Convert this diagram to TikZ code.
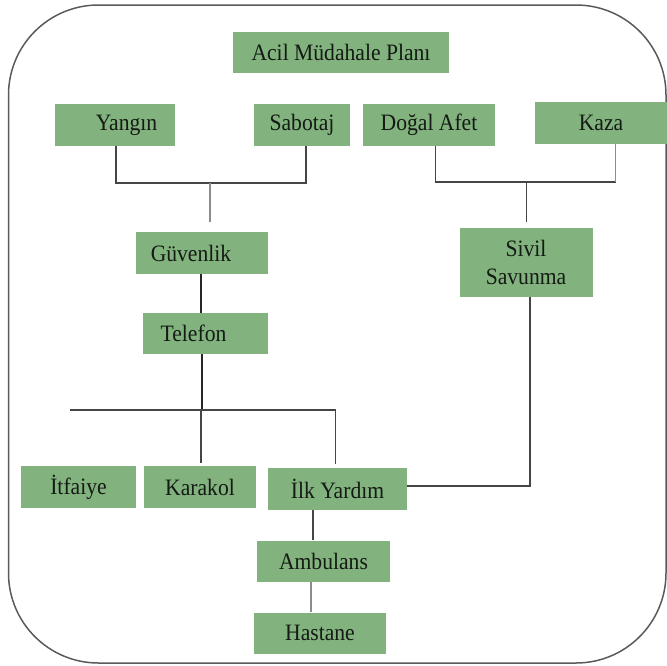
\documentclass[tikz,border=0pt]{standalone}
\usepackage{fontspec}
\setmainfont{Liberation Serif}[FakeStretch=0.92]
\definecolor{boxgreen}{HTML}{82B27E}
\definecolor{lnDark}{HTML}{454545}
\definecolor{lnLight}{HTML}{8C8C8C}
\definecolor{frameGray}{HTML}{5A5A5A}
\definecolor{txt}{HTML}{141A14}
\begin{document}
\begin{tikzpicture}[x=1pt,y=-1pt,
  box/.style={fill=boxgreen, draw=none, inner sep=0pt, text=txt,
    font=\fontsize{23.5}{28}\selectfont, align=center, minimum height=42pt},
  dk/.style={draw=lnDark, line width=1.4pt},
  lt/.style={draw=lnLight, line width=1.4pt},
  bk/.style={draw=black!85, line width=1.4pt}]
\useasboundingbox (0,0) rectangle (667,665);
% outer frame
\draw[draw=frameGray, line width=1.5pt, rounded corners=90pt] (8.5,5) rectangle (666,663);

% boxes
\node[box, minimum width=216pt, minimum height=41pt] (acil) at (341,52.5) {Acil Müdahale Planı};
\node[box, minimum width=120pt] (yangin) at (114.5,125) {\hspace*{24pt}Yangın};
\node[box, minimum width=96pt] (sabotaj) at (302,125) {Sabotaj};
\node[box, minimum width=132pt] (dogal) at (429,125) {Doğal Afet};
\node[box, minimum width=132pt] (kaza) at (601,123) {Kaza};
\node[box, minimum width=132pt] (guvenlik) at (202,253) {Güvenlik\hspace*{22pt}};
\node[box, minimum width=133pt, minimum height=69pt] (sivil) at (526,262.5) {Sivil\\Savunma};
\node[box, minimum width=125pt, minimum height=41pt] (telefon) at (205.5,333.5) {Telefon\hspace*{24pt}};
\node[box, minimum width=115pt] (itfaiye) at (78.5,487) {İtfaiye};
\node[box, minimum width=112pt] (karakol) at (200,487) {Karakol};
\node[box, minimum width=139pt] (ilk) at (337.5,489) {İlk Yardım};
\node[box, minimum width=133pt, minimum height=41pt] (ambulans) at (323.5,561) {Ambulans};
\node[box, minimum width=132pt, minimum height=41pt] (hastane) at (320,633) {Hastane};

% junction coordinates
\coordinate (j1) at (210,183);
\coordinate (j1e) at (210,222);
\coordinate (j2) at (526.6,182);
\coordinate (j2k) at (615.5,182);
\coordinate (j2e) at (526.6,222);
\coordinate (j3) at (202,410);
\coordinate (hl) at (70,410);
\coordinate (j4) at (335.6,464);
\coordinate (k0) at (201,410);
\coordinate (k1) at (201,463);

% connectors
\draw[dk] ([xshift=1.5pt]yangin.south) |- (j1) -| ([xshift=4pt]sabotaj.south);
\draw[lt] (j1) -- (j1e);
\draw[dk] ([xshift=6.5pt]dogal.south) |- (j2k);
\draw[lt] (j2k) -- ([xshift=14.5pt]kaza.south);
\draw[dk] (j2) -- (j2e);
\draw[bk] ([xshift=-1pt]guvenlik.south) -- ([xshift=-4.5pt]telefon.north);
\draw[bk] ([xshift=-3.5pt]telefon.south) -- (j3);
\draw[dk] (hl) -| (j4);
\draw[dk] (k0) -- (k1);
\draw[dk] ([xshift=4pt]sivil.south) |- ([yshift=3pt]ilk.east);
\draw[dk] ([xshift=-24.5pt]ilk.south) -- ([xshift=-10.5pt]ambulans.north);
\draw[lt] ([xshift=-12.5pt]ambulans.south) -- ([xshift=-9pt]hastane.north);
\end{tikzpicture}
\end{document}
